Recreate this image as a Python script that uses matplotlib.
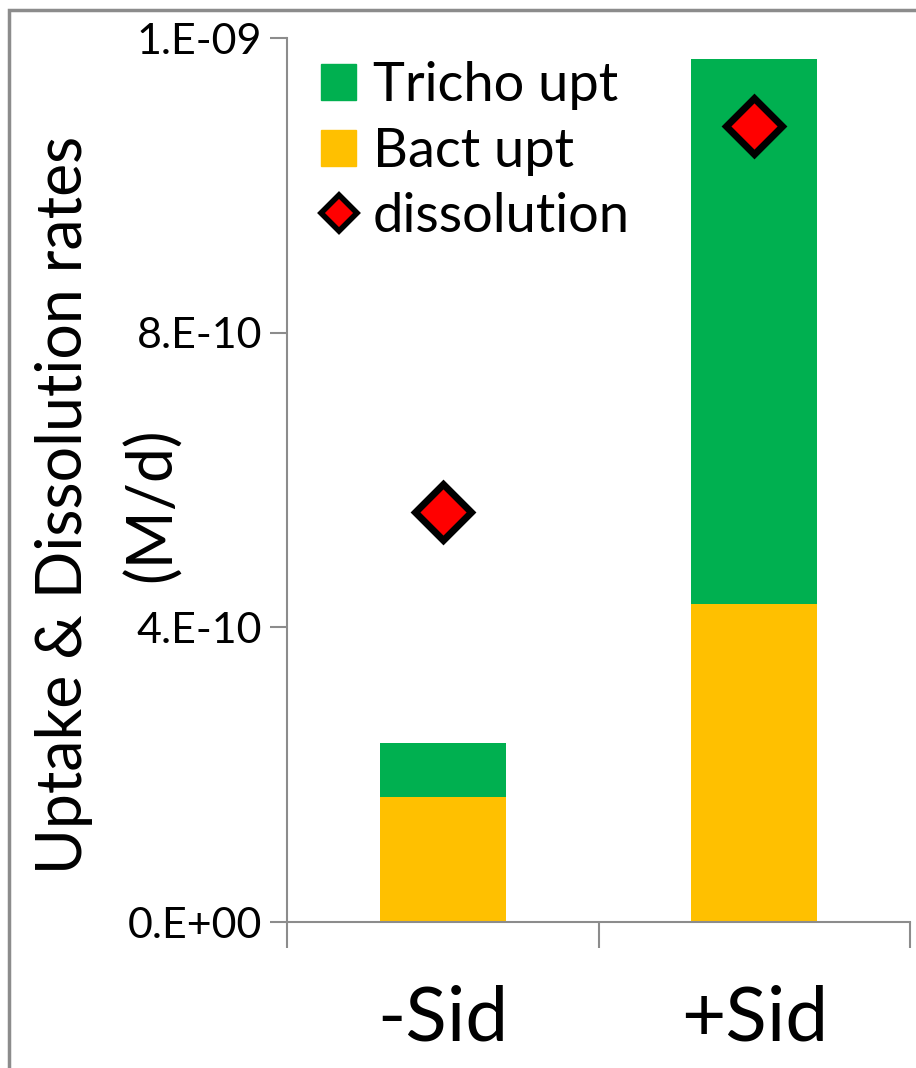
import matplotlib
matplotlib.use("Agg")
import matplotlib.pyplot as plt
from matplotlib.patches import Patch, Rectangle
from matplotlib.lines import Line2D

plt.rcParams["font.family"] = ["Lato", "DejaVu Sans"]

treatments = ["-Sid", "+Sid"]
bact_upt = [1.70e-10, 4.32e-10]
tricho_upt = [0.73e-10, 7.39e-10]
dissolution = [5.57e-10, 1.08e-9]

y_ticks = [0, 4e-10, 8e-10, 1.2e-9]
y_tick_labels = ["0.E+00", "4.E-10", "8.E-10", "1.E-09"]

GREEN = "#00B050"
YELLOW = "#FFC000"
RED = "#FF0000"
GRAY = "#8c8c8c"

fig = plt.figure(figsize=(9.16, 10.68), dpi=100)
ax = fig.add_axes([287 / 916, 1 - 922 / 1068, 623 / 916, 884 / 1068])

x = list(range(len(treatments)))
ax.bar(x, bact_upt, width=0.405, color=YELLOW, zorder=2)
ax.bar(x, tricho_upt, width=0.405, bottom=bact_upt, color=GREEN, zorder=2)
ax.plot(x, dissolution, linestyle="none", marker="D", ms=29, mfc=RED,
        mec="black", mew=5, zorder=3)

ax.set_xlim(-0.5, 1.5)
ax.set_ylim(0, 1.2e-9)
ax.set_yticks(y_ticks, y_tick_labels)
ax.set_xticks([-0.5, 0.5, 1.5], ["", "", ""])
ax.set_xticks(x, treatments, minor=True)

for side in ("top", "right"):
    ax.spines[side].set_visible(False)
for side in ("left", "bottom"):
    ax.spines[side].set_color(GRAY)
    ax.spines[side].set_linewidth(1.5)

ax.tick_params(axis="y", length=12, width=1.5, color=GRAY, pad=6, labelsize=31)
ax.tick_params(axis="x", which="major", length=19, width=1.5, color=GRAY)
ax.tick_params(axis="x", which="minor", length=0, pad=45, labelsize=55)

# y-axis title, two lines
fig.text(64 / 916, 1 - 505 / 1068, "Uptake & Dissolution rates",
         rotation=90, ha="center", va="center", fontsize=45)
fig.text(152 / 916, 1 - 505 / 1068, "(M/d)",
         rotation=90, ha="center", va="center", fontsize=45)

handles = [
    Patch(color=GREEN, label="Tricho upt"),
    Patch(color=YELLOW, label="Bact upt"),
    Line2D([], [], linestyle="none", marker="D", ms=18, mfc=RED, mec="black",
           mew=4, label="dissolution"),
]
ax.legend(handles=handles, loc="upper left", frameon=False, fontsize=39,
          handlelength=0.65, handleheight=0.65, handletextpad=0.3,
          labelspacing=0.3, borderaxespad=0.0, bbox_to_anchor=(0.02, 0.998))

# outer frame around the whole chart
fig.add_artist(Rectangle((9 / 916, -0.1), 1.2, 1.1 - 10 / 1068,
                         transform=fig.transFigure, fill=False,
                         edgecolor=GRAY, linewidth=2.5))

fig.savefig("out.png", dpi=100)
